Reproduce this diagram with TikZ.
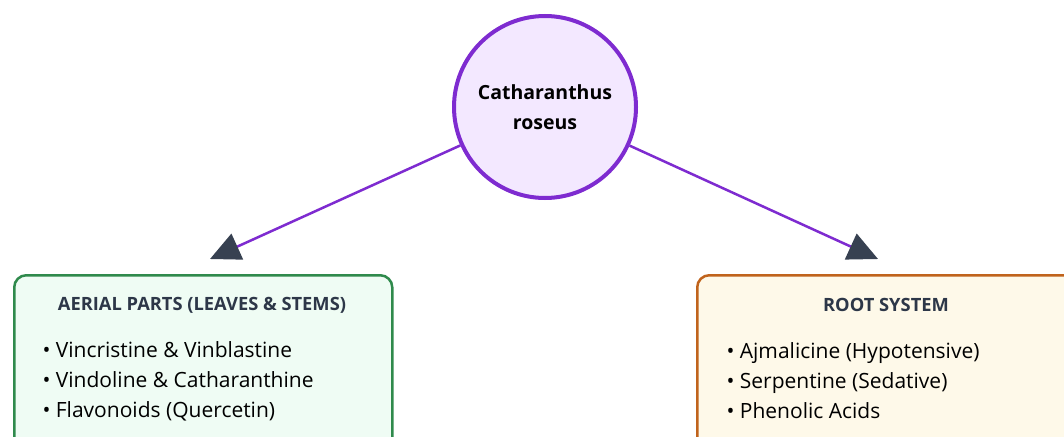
\documentclass[tikz,border=0pt]{standalone}
\usepackage{fontspec}
\setmainfont{Open Sans}
\usetikzlibrary{arrows.meta}
\definecolor{plantline}{HTML}{7E2BD0}
\definecolor{plantfill}{HTML}{F3E8FF}
\definecolor{aerialline}{HTML}{2F8A4C}
\definecolor{aerialfill}{HTML}{EFFCF4}
\definecolor{rootline}{HTML}{C0631C}
\definecolor{rootfill}{HTML}{FEF9E9}
\definecolor{headtext}{HTML}{2D3748}
\definecolor{tipcol}{HTML}{374151}
\begin{document}
\begin{tikzpicture}[x=1pt,y=-1pt,
  part/.style={draw, line width=2.5pt, rounded corners=12pt, anchor=north west, minimum height=190pt},
  head/.style={text=headtext, font=\bfseries\fontsize{18.3}{20}\selectfont},
  items/.style={anchor=west, align=left, font=\fontsize{21}{30}\selectfont},
  link/.style={plantline, line width=2.5pt, -{Triangle[length=30pt,width=28pt,color=tipcol]}}]
\useasboundingbox (0,0) rectangle (1064,436);
\clip (0,0) rectangle (1064,436);
\node[circle, draw=plantline, fill=plantfill, line width=4pt, minimum size=182pt,
      align=center, font=\bfseries\fontsize{19.5}{30}\selectfont] (plant) at (545,107) {Catharanthus\\roseus};

\node[part, draw=aerialline, fill=aerialfill, minimum width=378pt] (aerial) at (13,274) {};
\node[part, draw=rootline,   fill=rootfill,   minimum width=400pt] (root)   at (696,274) {};

\node[head] (aerialhead) at (202,305) {AERIAL PARTS (LEAVES \& STEMS)};
\node[head] (roothead)   at (886,305) {ROOT SYSTEM};

\node[items] (aeriallist) at (39,381) {• Vincristine \& Vinblastine\\• Vindoline \& Catharanthine\\• Flavonoids (Quercetin)};
\node[items] (rootlist)   at (723,381) {• Ajmalicine (Hypotensive)\\• Serpentine (Sedative)\\• Phenolic Acids};

\coordinate (s1) at (210,259); \coordinate (s2) at (878,259);
\draw[link] (plant) -- (s1);
\draw[link] (plant) -- (s2);
\end{tikzpicture}
\end{document}
